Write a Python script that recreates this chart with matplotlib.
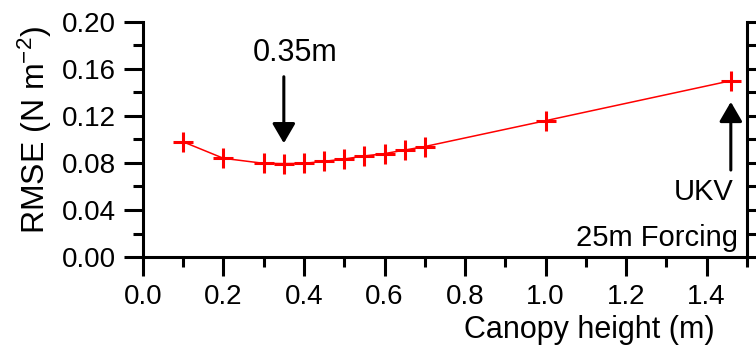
import matplotlib
matplotlib.use("Agg")
import matplotlib.pyplot as plt
from matplotlib.ticker import MultipleLocator, FormatStrFormatter

# Data
canopy_height = [0.1, 0.2, 0.3, 0.35, 0.4, 0.45, 0.5, 0.55, 0.6, 0.65, 0.7, 1.0, 1.46]
rmse = [0.098, 0.084, 0.0797, 0.0795, 0.0797, 0.0814, 0.0834, 0.086, 0.088, 0.091, 0.094, 0.116, 0.150]

plt.rcParams['font.family'] = ['Liberation Sans', 'DejaVu Sans']
plt.rcParams['mathtext.fontset'] = 'custom'
plt.rcParams['mathtext.rm'] = 'Liberation Sans'
plt.rcParams['mathtext.default'] = 'rm'

fig = plt.figure(figsize=(7.56, 3.49), dpi=100)
ax = fig.add_axes([0.189, 0.2636, 0.799, 0.6734])

ax.plot(canopy_height, rmse, color='red', lw=1.1, marker='+', ms=14, mew=2.2)

ax.set_xlim(0, 1.5)
ax.set_ylim(0, 0.2)
ax.xaxis.set_major_locator(MultipleLocator(0.2))
ax.xaxis.set_minor_locator(MultipleLocator(0.1))
ax.yaxis.set_major_locator(MultipleLocator(0.04))
ax.yaxis.set_minor_locator(MultipleLocator(0.02))
ax.xaxis.set_major_formatter(FormatStrFormatter('%.1f'))
ax.yaxis.set_major_formatter(FormatStrFormatter('%.2f'))

for s in ['left', 'bottom', 'right']:
    ax.spines[s].set_linewidth(2.2)
ax.spines['top'].set_visible(False)

ax.tick_params(which='both', direction='out', width=2.2, labelsize=20, right=True, top=False)
ax.tick_params(which='major', length=13.5, pad=6)
ax.tick_params(which='minor', length=7)
ax.tick_params(axis='y', which='both', labelright=False)

ax.set_xlabel('Canopy height (m)', fontsize=22)
ax.xaxis.set_label_coords(0.739, -0.31)
ax.xaxis.label.set_va('center')
ax.set_ylabel('RMSE (N m$^{-2}$)', fontsize=23)
ax.yaxis.set_label_coords(-0.179, 0.54)
ax.yaxis.label.set_va('center')

arrow_style = dict(arrowstyle='-|>,head_length=1.2,head_width=0.7', color='black', lw=2.2,
                   shrinkA=0, shrinkB=0)
ax.annotate('', xy=(0.35, 0.0968), xytext=(0.35, 0.1534), arrowprops=arrow_style)
ax.text(0.378, 0.1736, '0.35m', fontsize=22, ha='center', va='center')

ax.annotate('', xy=(1.46, 0.132), xytext=(1.46, 0.074), arrowprops=arrow_style)
ax.text(1.467, 0.0556, 'UKV', fontsize=21, ha='right', va='center')
ax.text(1.479, 0.0162, '25m Forcing', fontsize=21, ha='right', va='center')

fig.savefig('out.png', dpi=100)
